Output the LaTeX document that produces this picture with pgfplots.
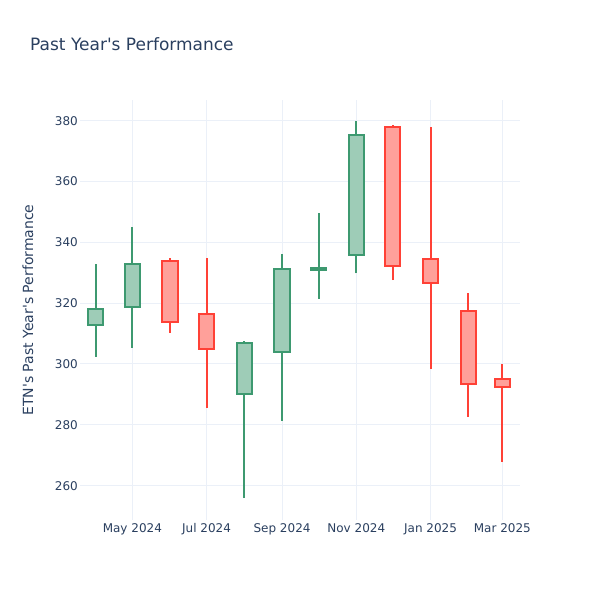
\documentclass[border=0pt]{standalone}
\usepackage{pgfplots}
\pgfplotsset{compat=1.18}
\usepackage{fontspec}
\setmainfont{DejaVu Sans}
\definecolor{txt}{HTML}{2A3F5F}
\definecolor{gridc}{HTML}{EBF0F8}
\definecolor{incl}{HTML}{3D9970}
\definecolor{incf}{RGB}{158,204,183}
\definecolor{decl}{HTML}{FF4136}
\definecolor{decf}{RGB}{255,160,154}
\pgfplotsset{
  incw/.style={draw=incl, line width=2bp, solid, forget plot},
  decw/.style={draw=decl, line width=2bp, solid, forget plot},
  incb/.style={draw=incl, fill=incf, line width=2bp, solid, forget plot},
  decb/.style={draw=decl, fill=decf, line width=2bp, solid, forget plot},
}
\begin{document}
\begin{tikzpicture}
\useasboundingbox (0,0) rectangle (600bp,600bp);
\node[anchor=west, text=txt, font=\fontsize{17bp}{20bp}\selectfont, inner sep=0pt] at (30bp,556bp) {Past Year\textquotesingle s Performance};
\node[rotate=90, text=txt, font=\fontsize{14bp}{17bp}\selectfont, inner sep=0pt] at (28bp,290bp) {ETN\textquotesingle s Past Year\textquotesingle s Performance};
\begin{axis}[
  at={(80bp,80bp)}, anchor=south west,
  scale only axis, width=440bp, height=420bp,
  xmin=-13, xmax=348.5, ymin=248.7, ymax=386.8,
  axis line style={draw=none},
  major tick length=0pt,
  grid=major, major grid style={draw=gridc, line width=1bp},
  xtick={30,91,153,214,275,334},
  xticklabels={May 2024, Jul 2024, Sep 2024, Nov 2024, Jan 2025, Mar 2025},
  ytick={260,280,300,320,340,360,380},
  /pgf/number format/assume math mode=true,
  tick label style={text=txt, font=\fontsize{12bp}{14bp}\selectfont},
  yticklabel style={anchor=east, inner sep=0pt, xshift=-2bp},
  xticklabel style={anchor=north, inner sep=0pt, yshift=-3bp},
]
% x = days since 2024-04-01; half body width 6.3 days
% Apr 2024: O 312.8 H 332.9 L 302.3 C 318.1
\addplot[incw] coordinates {(0,302.3) (0,332.9)};
\addplot[incb] coordinates {(-6.3,312.8) (6.3,312.8) (6.3,318.1) (-6.3,318.1)} -- cycle;
% May 2024: O 318.8 H 345.1 L 305.4 C 332.8
\addplot[incw] coordinates {(30,305.4) (30,345.1)};
\addplot[incb] coordinates {(23.7,318.8) (36.3,318.8) (36.3,332.8) (23.7,332.8)} -- cycle;
% Jun 2024: O 334.0 H 334.9 L 310.3 C 313.7
\addplot[decw] coordinates {(61,310.3) (61,334.9)};
\addplot[decb] coordinates {(54.7,334.0) (67.3,334.0) (67.3,313.7) (54.7,313.7)} -- cycle;
% Jul 2024: O 316.5 H 335.0 L 285.6 C 305.0
\addplot[decw] coordinates {(91,285.6) (91,335.0)};
\addplot[decb] coordinates {(84.7,316.5) (97.3,316.5) (97.3,305.0) (84.7,305.0)} -- cycle;
% Aug 2024: O 290.0 H 307.5 L 255.9 C 306.9
\addplot[incw] coordinates {(122,255.9) (122,307.5)};
\addplot[incb] coordinates {(115.7,290.0) (128.3,290.0) (128.3,306.9) (115.7,306.9)} -- cycle;
% Sep 2024: O 304.1 H 336.2 L 281.4 C 331.2
\addplot[incw] coordinates {(153,281.4) (153,336.2)};
\addplot[incb] coordinates {(146.7,304.1) (159.3,304.1) (159.3,331.2) (146.7,331.2)} -- cycle;
% Oct 2024: O 330.8 H 349.5 L 321.4 C 331.5
\addplot[incw] coordinates {(183,321.4) (183,349.5)};
\addplot[incb] coordinates {(176.7,330.8) (189.3,330.8) (189.3,331.5) (176.7,331.5)} -- cycle;
% Nov 2024: O 335.9 H 379.9 L 329.8 C 375.3
\addplot[incw] coordinates {(214,329.8) (214,379.9)};
\addplot[incb] coordinates {(207.7,335.9) (220.3,335.9) (220.3,375.3) (207.7,375.3)} -- cycle;
% Dec 2024: O 377.8 H 378.7 L 327.6 C 332.1
\addplot[decw] coordinates {(244,327.6) (244,378.7)};
\addplot[decb] coordinates {(237.7,377.8) (250.3,377.8) (250.3,332.1) (237.7,332.1)} -- cycle;
% Jan 2025: O 334.6 H 377.8 L 298.5 C 326.5
\addplot[decw] coordinates {(275,298.5) (275,377.8)};
\addplot[decb] coordinates {(268.7,334.6) (281.3,334.6) (281.3,326.5) (268.7,326.5)} -- cycle;
% Feb 2025: O 317.3 H 323.5 L 282.6 C 293.4
\addplot[decw] coordinates {(306,282.6) (306,323.5)};
\addplot[decb] coordinates {(299.7,317.3) (312.3,317.3) (312.3,293.4) (299.7,293.4)} -- cycle;
% Mar 2025: O 295.0 H 299.9 L 267.8 C 292.4
\addplot[decw] coordinates {(334,267.8) (334,299.9)};
\addplot[decb] coordinates {(327.7,295.0) (340.3,295.0) (340.3,292.4) (327.7,292.4)} -- cycle;
\end{axis}
\end{tikzpicture}
\end{document}
